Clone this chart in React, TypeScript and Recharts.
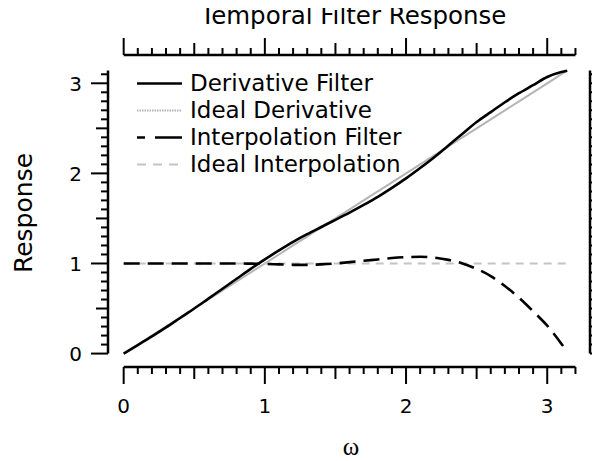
import React from 'react';
import { LineChart, Line, XAxis, YAxis, ReferenceLine, Legend } from 'recharts';

// ---------- data ----------
const omega = [
  0, 0.1, 0.2, 0.3, 0.4, 0.5, 0.6, 0.7, 0.8, 0.9, 1.0, 1.1, 1.2, 1.3, 1.4, 1.5,
  1.6, 1.7, 1.8, 1.9, 2.0, 2.1, 2.2, 2.3, 2.4, 2.5, 2.6, 2.7, 2.8, 2.9, 3.0, 3.1, 3.1416,
];
const derivativeFilter = [
  0, 0.095, 0.19, 0.29, 0.395, 0.50, 0.61, 0.72, 0.83, 0.94, 1.045, 1.145, 1.24, 1.325, 1.405, 1.485,
  1.565, 1.65, 1.74, 1.84, 1.945, 2.06, 2.18, 2.31, 2.44, 2.57, 2.68, 2.79, 2.89, 2.98, 3.07, 3.125, 3.14,
];
const idealDerivative = [
  0, 0.1, 0.2, 0.3, 0.4, 0.5, 0.6, 0.7, 0.8, 0.9, 1.0, 1.1, 1.2, 1.3, 1.4, 1.5,
  1.6, 1.7, 1.8, 1.9, 2.0, 2.1, 2.2, 2.3, 2.4, 2.5, 2.6, 2.7, 2.8, 2.9, 3.0, 3.1, 3.1416,
];
const interpolationFilter = [
  1, 1, 1, 1, 1, 1, 1, 1, 1, 0.998, 0.995, 0.99, 0.985, 0.985, 0.99, 1.0,
  1.015, 1.03, 1.045, 1.06, 1.07, 1.075, 1.065, 1.04, 1.0, 0.94, 0.86, 0.75, 0.62, 0.47, 0.31, 0.11, 0.02,
];
const idealInterpolation = [
  1, 1, 1, 1, 1, 1, 1, 1, 1, 1, 1, 1, 1, 1, 1, 1,
  1, 1, 1, 1, 1, 1, 1, 1, 1, 1, 1, 1, 1, 1, 1, 1, 1,
];

const seriesNames = ['Derivative Filter', 'Ideal Derivative', 'Interpolation Filter', 'Ideal Interpolation'];
const xTicks = [
  0, 0.1, 0.2, 0.3, 0.4, 0.5, 0.6, 0.7, 0.8, 0.9, 1, 1.1, 1.2, 1.3, 1.4, 1.5, 1.6,
  1.7, 1.8, 1.9, 2, 2.1, 2.2, 2.3, 2.4, 2.5, 2.6, 2.7, 2.8, 2.9, 3, 3.1, 3.2,
];
const yTicks = [
  0, 0.1, 0.2, 0.3, 0.4, 0.5, 0.6, 0.7, 0.8, 0.9, 1, 1.1, 1.2, 1.3, 1.4, 1.5, 1.6,
  1.7, 1.8, 1.9, 2, 2.1, 2.2, 2.3, 2.4, 2.5, 2.6, 2.7, 2.8, 2.9, 3, 3.1,
];
const xTickLabels = ['0', '1', '2', '3'];
const yTickLabels = ['0', '1', '2', '3'];
const titleText = 'Temporal Filter Response';
const xAxisLabel = 'ω';
const yAxisLabel = 'Response';
const frameXEnd = 3.2;
const frameYEnd = 3.1416;

// ---------- layout / style ----------
const X_MIN = -0.111;
const X_MAX = 3.303;
const Y_MIN = -0.149;
const Y_MAX = 3.314;
const SANS = '"DejaVu Sans", "Liberation Sans", Arial, sans-serif';
const SERIF = '"Liberation Serif", "DejaVu Serif", "Times New Roman", serif';

const lineStyles: Record<string, any> = {
  'Derivative Filter': { stroke: '#000000', width: 2.6, dash: undefined, legendDash: undefined },
  'Ideal Derivative': { stroke: '#b4b4b4', width: 2, dash: undefined, legendDash: '1.5 1' },
  'Interpolation Filter': { stroke: '#000000', width: 2.6, dash: '16 8', legendDash: '8 10 27 10' },
  'Ideal Interpolation': { stroke: '#c4c4c4', width: 2, dash: '8 6', legendDash: '9 7 9 7 9' },
};

const data = omega.map((w, i) => ({
  w,
  deriv: derivativeFilter[i],
  idealDeriv: idealDerivative[i],
  interp: interpolationFilter[i],
  idealInterp: idealInterpolation[i],
}));

const isInt = (v: number) => Math.abs(v - Math.round(v)) < 1e-6;
const isHalf = (v: number) => Math.abs(v * 2 - Math.round(v * 2)) < 1e-6;
const tickLen = (v: number) => (isInt(v) ? 17 : isHalf(v) ? 12 : 7);

const BottomTick = (props: any) => {
  const { x, y, payload } = props;
  const v = payload.value;
  const len = tickLen(v);
  return (
    <g>
      <line x1={x} y1={y} x2={x} y2={y + len} stroke="#000" strokeWidth={2} />
      {isInt(v) && (
        <text x={x} y={y + 46} textAnchor="middle" fontSize={20} fontFamily={SANS} fill="#000">
          {xTickLabels[Math.round(v)]}
        </text>
      )}
    </g>
  );
};

const TopTick = (props: any) => {
  const { x, y, payload } = props;
  const len = tickLen(payload.value);
  return <line x1={x} y1={y} x2={x} y2={y - len} stroke="#000" strokeWidth={2} />;
};

const LeftTick = (props: any) => {
  const { x, y, payload } = props;
  const v = payload.value;
  const len = tickLen(v);
  return (
    <g>
      <line x1={x} y1={y} x2={x - len} y2={y} stroke="#000" strokeWidth={2} />
      {isInt(v) && (
        <text x={x - 26} y={y + 7.3} textAnchor="end" fontSize={20} fontFamily={SANS} fill="#000">
          {yTickLabels[Math.round(v)]}
        </text>
      )}
    </g>
  );
};

const RightTick = (props: any) => {
  const { x, y, payload } = props;
  const len = tickLen(payload.value);
  return <line x1={x} y1={y} x2={x + len} y2={y} stroke="#000" strokeWidth={2} />;
};

const TitleLabel = (props: any) => {
  const vb = props.viewBox;
  return (
    <text x={vb.x + 245.4} y={vb.y + 16} textAnchor="middle" fontSize={24.5} fontFamily={SANS} fill="#000">
      {titleText}
    </text>
  );
};

const XLabel = (props: any) => {
  const vb = props.viewBox;
  return (
    <text x={vb.x + 243} y={vb.y + 88} textAnchor="middle" fontSize={25} fontFamily={SERIF} fill="#000">
      {xAxisLabel}
    </text>
  );
};

const YLabel = (props: any) => {
  const vb = props.viewBox;
  const cx = vb.x + 24;
  const cy = vb.y + vb.height / 2 + 2;
  return (
    <text x={cx} y={cy} transform={`rotate(-90, ${cx}, ${cy})`} textAnchor="middle" fontSize={25} fontFamily={SANS} fill="#000">
      {yAxisLabel}
    </text>
  );
};

const renderLegend = (props: any) => {
  const payload: any[] = props.payload || [];
  return (
    <div style={{ fontFamily: SANS, fontSize: 23, color: '#000' }}>
      {seriesNames.map((name) => {
        const entry = payload.find((p) => p.value === name);
        const st = lineStyles[name];
        return (
          <div key={name} style={{ display: 'flex', alignItems: 'center', height: 27.2 }}>
            <svg width={45} height={27} style={{ display: 'block' }}>
              <line
                x1={0}
                y1={13.5}
                x2={45}
                y2={13.5}
                stroke={entry ? entry.color : st.stroke}
                strokeWidth={st.width}
                strokeDasharray={st.legendDash}
              />
            </svg>
            <span style={{ marginLeft: 8, lineHeight: '27.2px', whiteSpace: 'nowrap' }}>{name}</span>
          </div>
        );
      })}
    </div>
  );
};

export default function App() {
  return (
    <div style={{ width: 592, height: 453 }}>
      <style>{'.recharts-surface{overflow:visible}'}</style>
      <LineChart width={592} height={453} data={data} margin={{ top: 0, right: 0, bottom: 0, left: 0 }}>
        <XAxis
          dataKey="w"
          type="number"
          domain={[X_MIN, X_MAX]}
          allowDataOverflow
          ticks={xTicks}
          interval={0}
          height={94}
          tickSize={0}
          tickMargin={0}
          axisLine={false}
          tickLine={false}
          tick={<BottomTick />}
          label={<XLabel />}
        />
        <XAxis
          xAxisId="top"
          dataKey="w"
          orientation="top"
          type="number"
          domain={[X_MIN, X_MAX]}
          allowDataOverflow
          ticks={xTicks}
          interval={0}
          height={47}
          tickSize={0}
          tickMargin={0}
          axisLine={false}
          tickLine={false}
          tick={<TopTick />}
          label={<TitleLabel />}
        />
        <YAxis
          type="number"
          domain={[Y_MIN, Y_MAX]}
          allowDataOverflow
          ticks={yTicks}
          interval={0}
          width={100}
          tickSize={0}
          tickMargin={0}
          axisLine={false}
          tickLine={false}
          tick={<LeftTick />}
          label={<YLabel />}
        />
        <YAxis
          yAxisId="right"
          orientation="right"
          type="number"
          domain={[Y_MIN, Y_MAX]}
          allowDataOverflow
          ticks={yTicks}
          interval={0}
          width={10}
          tickSize={0}
          tickMargin={0}
          axisLine={false}
          tickLine={false}
          tick={<RightTick />}
        />
        <ReferenceLine segment={[{ x: 0, y: Y_MIN }, { x: frameXEnd, y: Y_MIN }]} stroke="#000" strokeWidth={2.5} ifOverflow="visible" />
        <ReferenceLine segment={[{ x: 0, y: Y_MAX }, { x: frameXEnd, y: Y_MAX }]} stroke="#000" strokeWidth={2.5} ifOverflow="visible" />
        <ReferenceLine segment={[{ x: X_MIN, y: 0 }, { x: X_MIN, y: frameYEnd }]} stroke="#000" strokeWidth={2.5} ifOverflow="visible" />
        <ReferenceLine segment={[{ x: X_MAX, y: 0 }, { x: X_MAX, y: frameYEnd }]} stroke="#000" strokeWidth={2.5} ifOverflow="visible" />
        <Line
          name="Ideal Derivative"
          dataKey="idealDeriv"
          xAxisId="top"
          yAxisId="right"
          type="monotone"
          stroke={lineStyles['Ideal Derivative'].stroke}
          strokeWidth={lineStyles['Ideal Derivative'].width}
          dot={false}
          isAnimationActive={false}
        />
        <Line
          name="Ideal Interpolation"
          dataKey="idealInterp"
          xAxisId="top"
          yAxisId="right"
          type="monotone"
          stroke={lineStyles['Ideal Interpolation'].stroke}
          strokeWidth={lineStyles['Ideal Interpolation'].width}
          strokeDasharray={lineStyles['Ideal Interpolation'].dash}
          dot={false}
          isAnimationActive={false}
        />
        <Line
          name="Derivative Filter"
          dataKey="deriv"
          type="monotone"
          stroke={lineStyles['Derivative Filter'].stroke}
          strokeWidth={lineStyles['Derivative Filter'].width}
          dot={false}
          isAnimationActive={false}
        />
        <Line
          name="Interpolation Filter"
          dataKey="interp"
          type="monotone"
          stroke={lineStyles['Interpolation Filter'].stroke}
          strokeWidth={lineStyles['Interpolation Filter'].width}
          strokeDasharray={lineStyles['Interpolation Filter'].dash}
          dot={false}
          isAnimationActive={false}
        />
        <Legend
          layout="horizontal"
          verticalAlign="middle"
          align="center"
          wrapperStyle={{ position: 'absolute', left: 129, top: 61.7, width: 320, margin: 0 }}
          content={renderLegend}
        />
      </LineChart>
    </div>
  );
}
